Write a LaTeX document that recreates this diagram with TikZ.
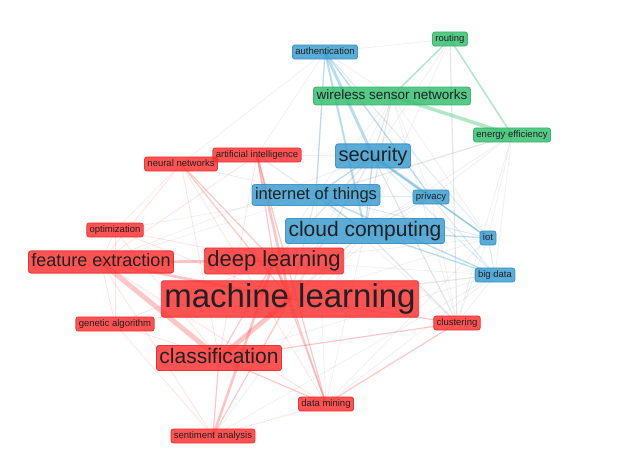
\documentclass[tikz,border=0pt]{standalone}
\usepackage{fontspec}
\setmainfont{Liberation Sans}
\usetikzlibrary{backgrounds}
\definecolor{redF}{RGB}{255,45,45}
\definecolor{redD}{RGB}{230,40,40}
\definecolor{bluF}{RGB}{55,155,207}
\definecolor{bluD}{RGB}{50,140,195}
\definecolor{grnF}{RGB}{49,190,108}
\definecolor{grnD}{RGB}{45,175,100}
\definecolor{txt}{RGB}{30,34,36}
\definecolor{edgeR}{RGB}{255,60,60}
\definecolor{edgeB}{RGB}{60,160,210}
\definecolor{edgeG}{RGB}{60,200,120}
\definecolor{edgeGr}{RGB}{150,150,150}
\newcommand\fsz[1]{\fontsize{#1pt}{#1pt}\selectfont}
\newcommand\kwstrut{\rule[-0.22em]{0pt}{0.96em}}
\begin{document}
\begin{tikzpicture}[x=1pt,y=-1pt,
  kw/.style={rounded corners=2.5pt, inner xsep=3pt, inner ysep=2.5pt, text=txt,
    fill opacity=0.82, draw opacity=0.85, text opacity=1, line width=0.8pt,
    font=\fsz{#1}, execute at begin node=\kwstrut},
  rn/.style={kw={#1}, fill=redF, draw=redD},
  bn/.style={kw={#1}, fill=bluF, draw=bluD},
  gn/.style={kw={#1}, fill=grnF, draw=grnD},
  re1/.style={edgeR, opacity=0.16, line width=0.7pt},
  re2/.style={edgeR, opacity=0.28, line width=1.2pt},
  re3/.style={edgeR, opacity=0.3, line width=2.6pt},
  re4/.style={edgeR, opacity=0.28, line width=5pt},
  be1/.style={edgeB, opacity=0.22, line width=0.8pt},
  be2/.style={edgeB, opacity=0.35, line width=1.3pt},
  be3/.style={edgeB, opacity=0.35, line width=3pt},
  ge2/.style={edgeG, opacity=0.4, line width=1.5pt},
  ge3/.style={edgeG, opacity=0.4, line width=3.5pt},
  gr1/.style={edgeGr, opacity=0.15, line width=0.7pt},
  gr2/.style={edgeGr, opacity=0.24, line width=1.1pt}
]
\useasboundingbox (0,0) rectangle (624,462);
% blue cluster
\node[bn=9.5] (auth) at (325,52) {authentication};
\node[bn=20] (sec) at (373,156) {security};
\node[bn=16.5] (iott) at (316,195) {internet of things};
\node[bn=9.5] (priv) at (431,197) {privacy};
\node[bn=21] (cc) at (365,231) {cloud computing};
\node[bn=9.5] (iot) at (488,238) {iot};
\node[bn=9.5] (bd) at (495,275) {big data};
% green cluster
\node[gn=9.5] (rout) at (450,39) {routing};
\node[gn=13.5] (wsn) at (392,96) {wireless sensor networks};
\node[gn=9.5] (ee) at (512,135) {energy efficiency};
% red cluster
\node[rn=9.5] (ai) at (257,155) {artificial intelligence};
\node[rn=9.5] (nn) at (181,164) {neural networks};
\node[rn=9.5] (opt) at (115,230) {optimization};
\node[rn=18] (fe) at (101,262) {feature extraction};
\node[rn=22] (dl) at (274,261) {deep learning};
\node[rn=33] (ml) at (290,299) {machine learning};
\node[rn=9.5] (ga) at (115,324) {genetic algorithm};
\node[rn=21] (cls) at (219,358) {classification};
\node[rn=9.5] (clu) at (457,323) {clustering};
\node[rn=9.5] (dm) at (326,404) {data mining};
\node[rn=9.5] (sa) at (213,436) {sentiment analysis};
\begin{pgfonlayer}{background}
\fill[white] (0,0) rectangle (624,462);
% grey inter-cluster links
\foreach \a/\b in {rout/auth, rout/sec, rout/cc, wsn/iott, wsn/priv,
  wsn/iot, wsn/clu, wsn/auth, wsn/ml, ee/clu, ee/cc, ee/iot, ee/bd, ee/priv,
  ai/iott, ai/sec, ai/auth, ai/cc, nn/iott, nn/auth, dl/iott, dl/cc, dl/iot, dl/bd, dl/priv,
  ml/iot, ml/priv, fe/iott, fe/sec, cls/cc, cls/bd, dm/bd, dm/cc, dm/iot, dm/iott,
  clu/bd, clu/iot, clu/priv, clu/iott, opt/iott, sa/cc, sa/bd}
  \draw[gr1] (\a.center) -- (\b.center);
\foreach \a/\b in {wsn/sec, wsn/cc, ml/sec, ml/cc, ml/bd, ml/iott, dl/sec, clu/sec, clu/cc, rout/clu, ee/iott}
  \draw[gr2] (\a.center) -- (\b.center);
% green
\draw[ge2] (wsn.center) -- (rout.center);
\draw[ge2] (rout.center) -- (ee.center);
\draw[ge3] (wsn.center) -- (ee.center);
% blue
\foreach \a/\b in {sec/bd, iott/priv, iott/iot, cc/priv, priv/bd, iot/bd, auth/iot}
  \draw[be1] (\a.center) -- (\b.center);
\foreach \a/\b in {auth/iott, auth/priv, sec/iott, sec/cc, sec/iot, iott/cc, iott/bd,
  cc/iot, cc/bd, priv/iot}
  \draw[be2] (\a.center) -- (\b.center);
\draw[be3] (auth.center) -- (sec.center);
\draw[be3] (sec.center) -- (priv.center);
\draw[be3, line width=2pt] (auth.center) -- (cc.center);
% red
\foreach \a/\b in {dm/sa, ai/fe, ai/nn, nn/fe, nn/cls, nn/opt, nn/dm, opt/ml, opt/fe,
  opt/cls, opt/dl, ga/ml, ga/fe, ga/cls, ga/sa, ga/opt, ga/dl, fe/sa, fe/dm, ai/cls}
  \draw[re1] (\a.center) -- (\b.center);
\foreach \a/\b in {cls/sa, ml/dm, cls/dm, cls/clu, ml/clu, dm/clu, dl/cls, ai/dl, nn/dl,
  nn/ml, sa/ml, ai/dm, dl/dm}
  \draw[re2] (\a.center) -- (\b.center);
\foreach \a/\b in {fe/ml, dl/ml, ai/ml, dl/sa, fe/dl}
  \draw[re3] (\a.center) -- (\b.center);
\draw[re4] (ml.center) -- (cls.center);
\draw[re4] (fe.center) -- (cls.center);
\end{pgfonlayer}
\end{tikzpicture}
\end{document}
